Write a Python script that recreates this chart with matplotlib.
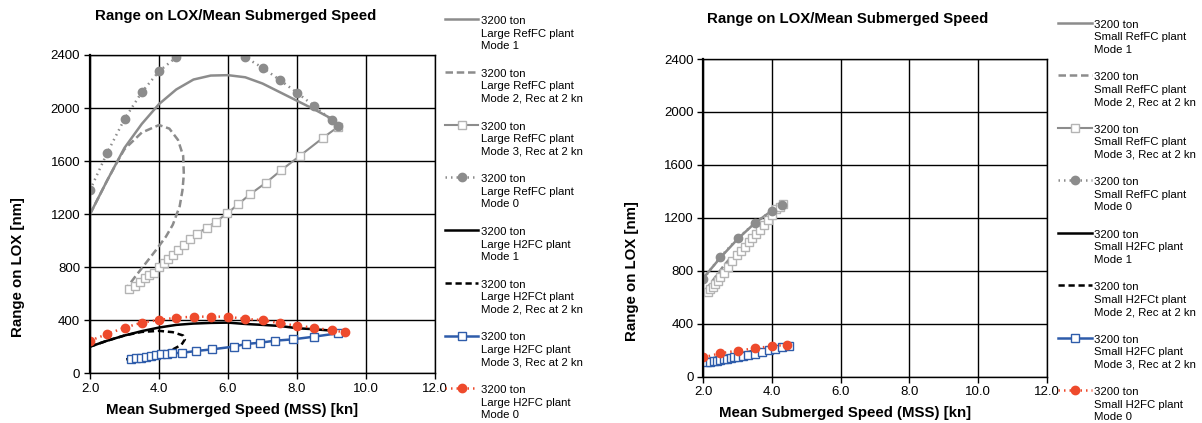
import matplotlib.pyplot as plt
from matplotlib.lines import Line2D

plt.rcParams['font.family'] = ['Liberation Sans', 'DejaVu Sans']

GRAY = '#8c8c8c'
LGRAY = '#b4b4b4'
BLUE = '#2e5caa'
RED = '#ee4a2c'

# ---- large plant (left chart) ----
L_ref1_x = [2.0, 2.5, 3.0, 3.5, 4.0, 4.5, 5.0, 5.5, 6.0, 6.5, 7.0, 7.5, 8.0, 8.5, 9.0, 9.2]
L_ref1_y = [1200, 1455, 1700, 1880, 2030, 2140, 2215, 2245, 2248, 2232, 2185, 2120, 2055, 1990, 1920, 1865]

L_ref2_x = [2.0, 2.5, 2.8, 3.0, 3.5, 4.0, 4.3, 4.55, 4.7, 4.72, 4.68, 4.6, 4.4, 4.2, 3.9, 3.6, 3.3, 3.05]
L_ref2_y = [1200, 1455, 1600, 1690, 1815, 1872, 1845, 1760, 1640, 1500, 1380, 1260, 1120, 1030, 925, 825, 725, 640]

L_ref3_x = [3.14, 3.30, 3.45, 3.59, 3.72, 3.86, 4.01, 4.15, 4.27, 4.41, 4.56, 4.72, 4.90, 5.09, 5.38,
            5.65, 5.98, 6.30, 6.65, 7.10, 7.55, 8.09, 8.76, 9.20]
L_ref3_y = [633, 658, 691, 716, 741, 759, 799, 834, 860, 892, 930, 967, 1010, 1050, 1098,
            1143, 1206, 1276, 1352, 1437, 1533, 1641, 1777, 1860]

L_ref0_x = [2.0, 2.5, 3.0, 3.5, 4.0, 4.5, 5.0, 5.5, 6.0, 6.5, 7.0, 7.5, 8.0, 8.5, 9.0, 9.2]
L_ref0_y = [1382, 1663, 1917, 2119, 2277, 2383, 2445, 2465, 2450, 2383, 2304, 2212, 2116, 2015, 1910, 1865]

L_h2_1_x = [2.0, 2.5, 3.0, 3.5, 4.0, 4.5, 5.0, 5.5, 6.0, 6.5, 7.0, 7.5, 8.0, 8.5, 9.0, 9.25]
L_h2_1_y = [201, 246, 285, 318, 345, 365, 375, 380, 382, 372, 365, 357, 340, 332, 322, 314]

L_h2_2_x = [2.0, 2.5, 3.0, 3.5, 4.0, 4.4, 4.7, 4.75, 4.65, 4.4, 4.0, 3.5, 3.05]
L_h2_2_y = [201, 246, 285, 312, 320, 310, 285, 255, 215, 180, 148, 125, 105]

L_h2_3_x = [3.20, 3.33, 3.47, 3.62, 3.77, 3.91, 4.07, 4.23, 4.39, 4.68, 5.07, 5.55, 6.16, 6.52,
            6.94, 7.37, 7.88, 8.49, 9.19]
L_h2_3_y = [105, 113, 118, 125, 130, 138, 143, 148, 151, 155, 168, 181, 201, 221,
            231, 246, 256, 276, 302]

L_h2_0_x = [2.0, 2.5, 3.0, 3.5, 4.0, 4.5, 5.0, 5.5, 6.0, 6.5, 7.0, 7.5, 8.0, 8.5, 9.0, 9.4]
L_h2_0_y = [246, 296, 344, 382, 402, 419, 427, 427, 427, 409, 402, 377, 359, 344, 324, 309]

# ---- small plant (right chart) ----
S_ref1_x = [2.0, 2.5, 3.0, 3.5, 4.0, 4.3]
S_ref1_y = [745, 900, 1040, 1160, 1255, 1305]

S_ref2_x = [2.05, 2.2, 2.4, 2.6, 2.75]
S_ref2_y = [650, 700, 770, 840, 885]

S_ref3_x = [2.14, 2.2, 2.27, 2.34, 2.42, 2.5, 2.6, 2.72, 2.85, 2.97, 3.1, 3.21, 3.32, 3.42, 3.53,
            3.64, 3.76, 3.88, 4.0, 4.13, 4.22, 4.32]
S_ref3_y = [642, 660, 680, 700, 725, 750, 785, 831, 875, 919, 952, 982, 1015, 1046, 1078,
            1108, 1146, 1184, 1225, 1265, 1285, 1305]

S_ref0_x = [2.0, 2.5, 3.0, 3.5, 4.0, 4.3]
S_ref0_y = [740, 905, 1045, 1160, 1255, 1300]

S_h2_1_x = [2.0, 2.5, 3.0, 3.5, 4.0, 4.5]
S_h2_1_y = [125, 150, 172, 195, 215, 235]

S_h2_2_x = [2.1, 2.3, 2.6, 2.9]
S_h2_2_y = [105, 115, 132, 148]

S_h2_3_x = [2.1, 2.2, 2.3, 2.4, 2.5, 2.6, 2.7, 2.8, 2.9, 3.0, 3.15, 3.3, 3.5, 3.7, 3.9, 4.1, 4.3, 4.5]
S_h2_3_y = [110, 114, 118, 122, 127, 131, 136, 141, 146, 150, 157, 165, 175, 186, 198, 210, 222, 235]

S_h2_0_x = [2.0, 2.5, 3.0, 3.5, 4.0, 4.45]
S_h2_0_y = [146, 177, 197, 214, 232, 240]

x_ticks = [2.0, 4.0, 6.0, 8.0, 10.0, 12.0]
y_ticks = [0, 400, 800, 1200, 1600, 2000, 2400]

STYLES = [
    dict(color=GRAY, lw=1.8, ls='-'),
    dict(color=GRAY, lw=1.8, ls=(0, (3, 1.5))),
    dict(color=GRAY, lw=1.5, ls='-', marker='s', ms=6, mfc='white', mec=LGRAY, mew=1),
    dict(color=GRAY, lw=1.8, ls=(0, (0.6, 1.6)), marker='o', ms=6, mfc=GRAY, mec=GRAY),
    dict(color='black', lw=1.8, ls='-'),
    dict(color='black', lw=1.8, ls=(0, (2.5, 1.5))),
    dict(color=BLUE, lw=1.8, ls='-', marker='s', ms=6, mfc='white', mec=BLUE, mew=1),
    dict(color=RED, lw=1.8, ls=(0, (0.6, 1.6)), marker='o', ms=6, mfc=RED, mec=RED),
]

fig = plt.figure(figsize=(12.02, 4.23), dpi=100)
W, H = 1202.0, 423.0


def setup(ax):
    ax.set_xlim(2, 12)
    ax.set_ylim(0, 2400)
    ax.set_xticks(x_ticks)
    ax.set_xticklabels(['%.1f' % v for v in x_ticks])
    ax.set_yticks(y_ticks)
    ax.grid(True, color='black', lw=1.0)
    ax.set_axisbelow(True)
    for s in ax.spines.values():
        s.set_color('black')
        s.set_linewidth(1.0)
    ax.spines['left'].set_linewidth(1.6)
    ax.tick_params(labelsize=9.5, length=4, width=1, direction='out', pad=3)


def draw(ax, series):
    for (xs, ys), st in zip(series, STYLES):
        ax.plot(xs, ys, clip_on=True, **st)


def legend(x0, x1, tx, y0, step, labels):
    for i, (lab, st) in enumerate(zip(labels, STYLES)):
        y = 1 - (y0 + i * step) / H
        xm = (x0 + x1) / 2
        ln = Line2D([x0 / W, xm / W, x1 / W], [y, y, y], transform=fig.transFigure,
                    markevery=[1], **st)
        fig.add_artist(ln)
        fig.text(tx / W, y + 3 / H, lab, fontsize=8.2, va='top', ha='left', linespacing=1.32)


axL = fig.add_axes([90 / W, 1 - 373.3 / H, 345 / W, 318.3 / H])
setup(axL)
draw(axL, [(L_ref1_x, L_ref1_y), (L_ref2_x, L_ref2_y), (L_ref3_x, L_ref3_y), (L_ref0_x, L_ref0_y),
           (L_h2_1_x, L_h2_1_y), (L_h2_2_x, L_h2_2_y), (L_h2_3_x, L_h2_3_y), (L_h2_0_x, L_h2_0_y)])

axR = fig.add_axes([703.3 / W, 1 - 376.7 / H, 343.4 / W, 317.7 / H])
setup(axR)
draw(axR, [(S_ref1_x, S_ref1_y), (S_ref2_x, S_ref2_y), (S_ref3_x, S_ref3_y), (S_ref0_x, S_ref0_y),
           (S_h2_1_x, S_h2_1_y), (S_h2_2_x, S_h2_2_y), (S_h2_3_x, S_h2_3_y), (S_h2_0_x, S_h2_0_y)])

title = 'Range on LOX/Mean Submerged Speed'
fig.text(236 / W, 1 - 16 / H, title, fontsize=10.8, fontweight='bold', ha='center', va='center')
fig.text(848 / W, 1 - 19 / H, title, fontsize=10.8, fontweight='bold', ha='center', va='center')
xlab = 'Mean Submerged Speed (MSS) [kn]'
fig.text(232 / W, 1 - 410 / H, xlab, fontsize=10.8, fontweight='bold', ha='center', va='center')
fig.text(845 / W, 1 - 413 / H, xlab, fontsize=10.8, fontweight='bold', ha='center', va='center')
ylab = 'Range on LOX [nm]'
fig.text(18 / W, 1 - 267 / H, ylab, fontsize=10.8, fontweight='bold', ha='center', va='center', rotation=90)
fig.text(632 / W, 1 - 271 / H, ylab, fontsize=10.8, fontweight='bold', ha='center', va='center', rotation=90)

large = ['3200 ton\nLarge RefFC plant\nMode 1',
         '3200 ton\nLarge RefFC plant\nMode 2, Rec at 2 kn',
         '3200 ton\nLarge RefFC plant\nMode 3, Rec at 2 kn',
         '3200 ton\nLarge RefFC plant\nMode 0',
         '3200 ton\nLarge H2FC plant\nMode 1',
         '3200 ton\nLarge H2FCt plant\nMode 2, Rec at 2 kn',
         '3200 ton\nLarge H2FC plant\nMode 3, Rec at 2 kn',
         '3200 ton\nLarge H2FC plant\nMode 0']
small = [s.replace('Large', 'Small') for s in large]

legend(445, 478, 481, 19, 52.75, large)
legend(1058, 1092, 1094, 22.7, 52.5, small)

fig.savefig('out.png', dpi=100)
